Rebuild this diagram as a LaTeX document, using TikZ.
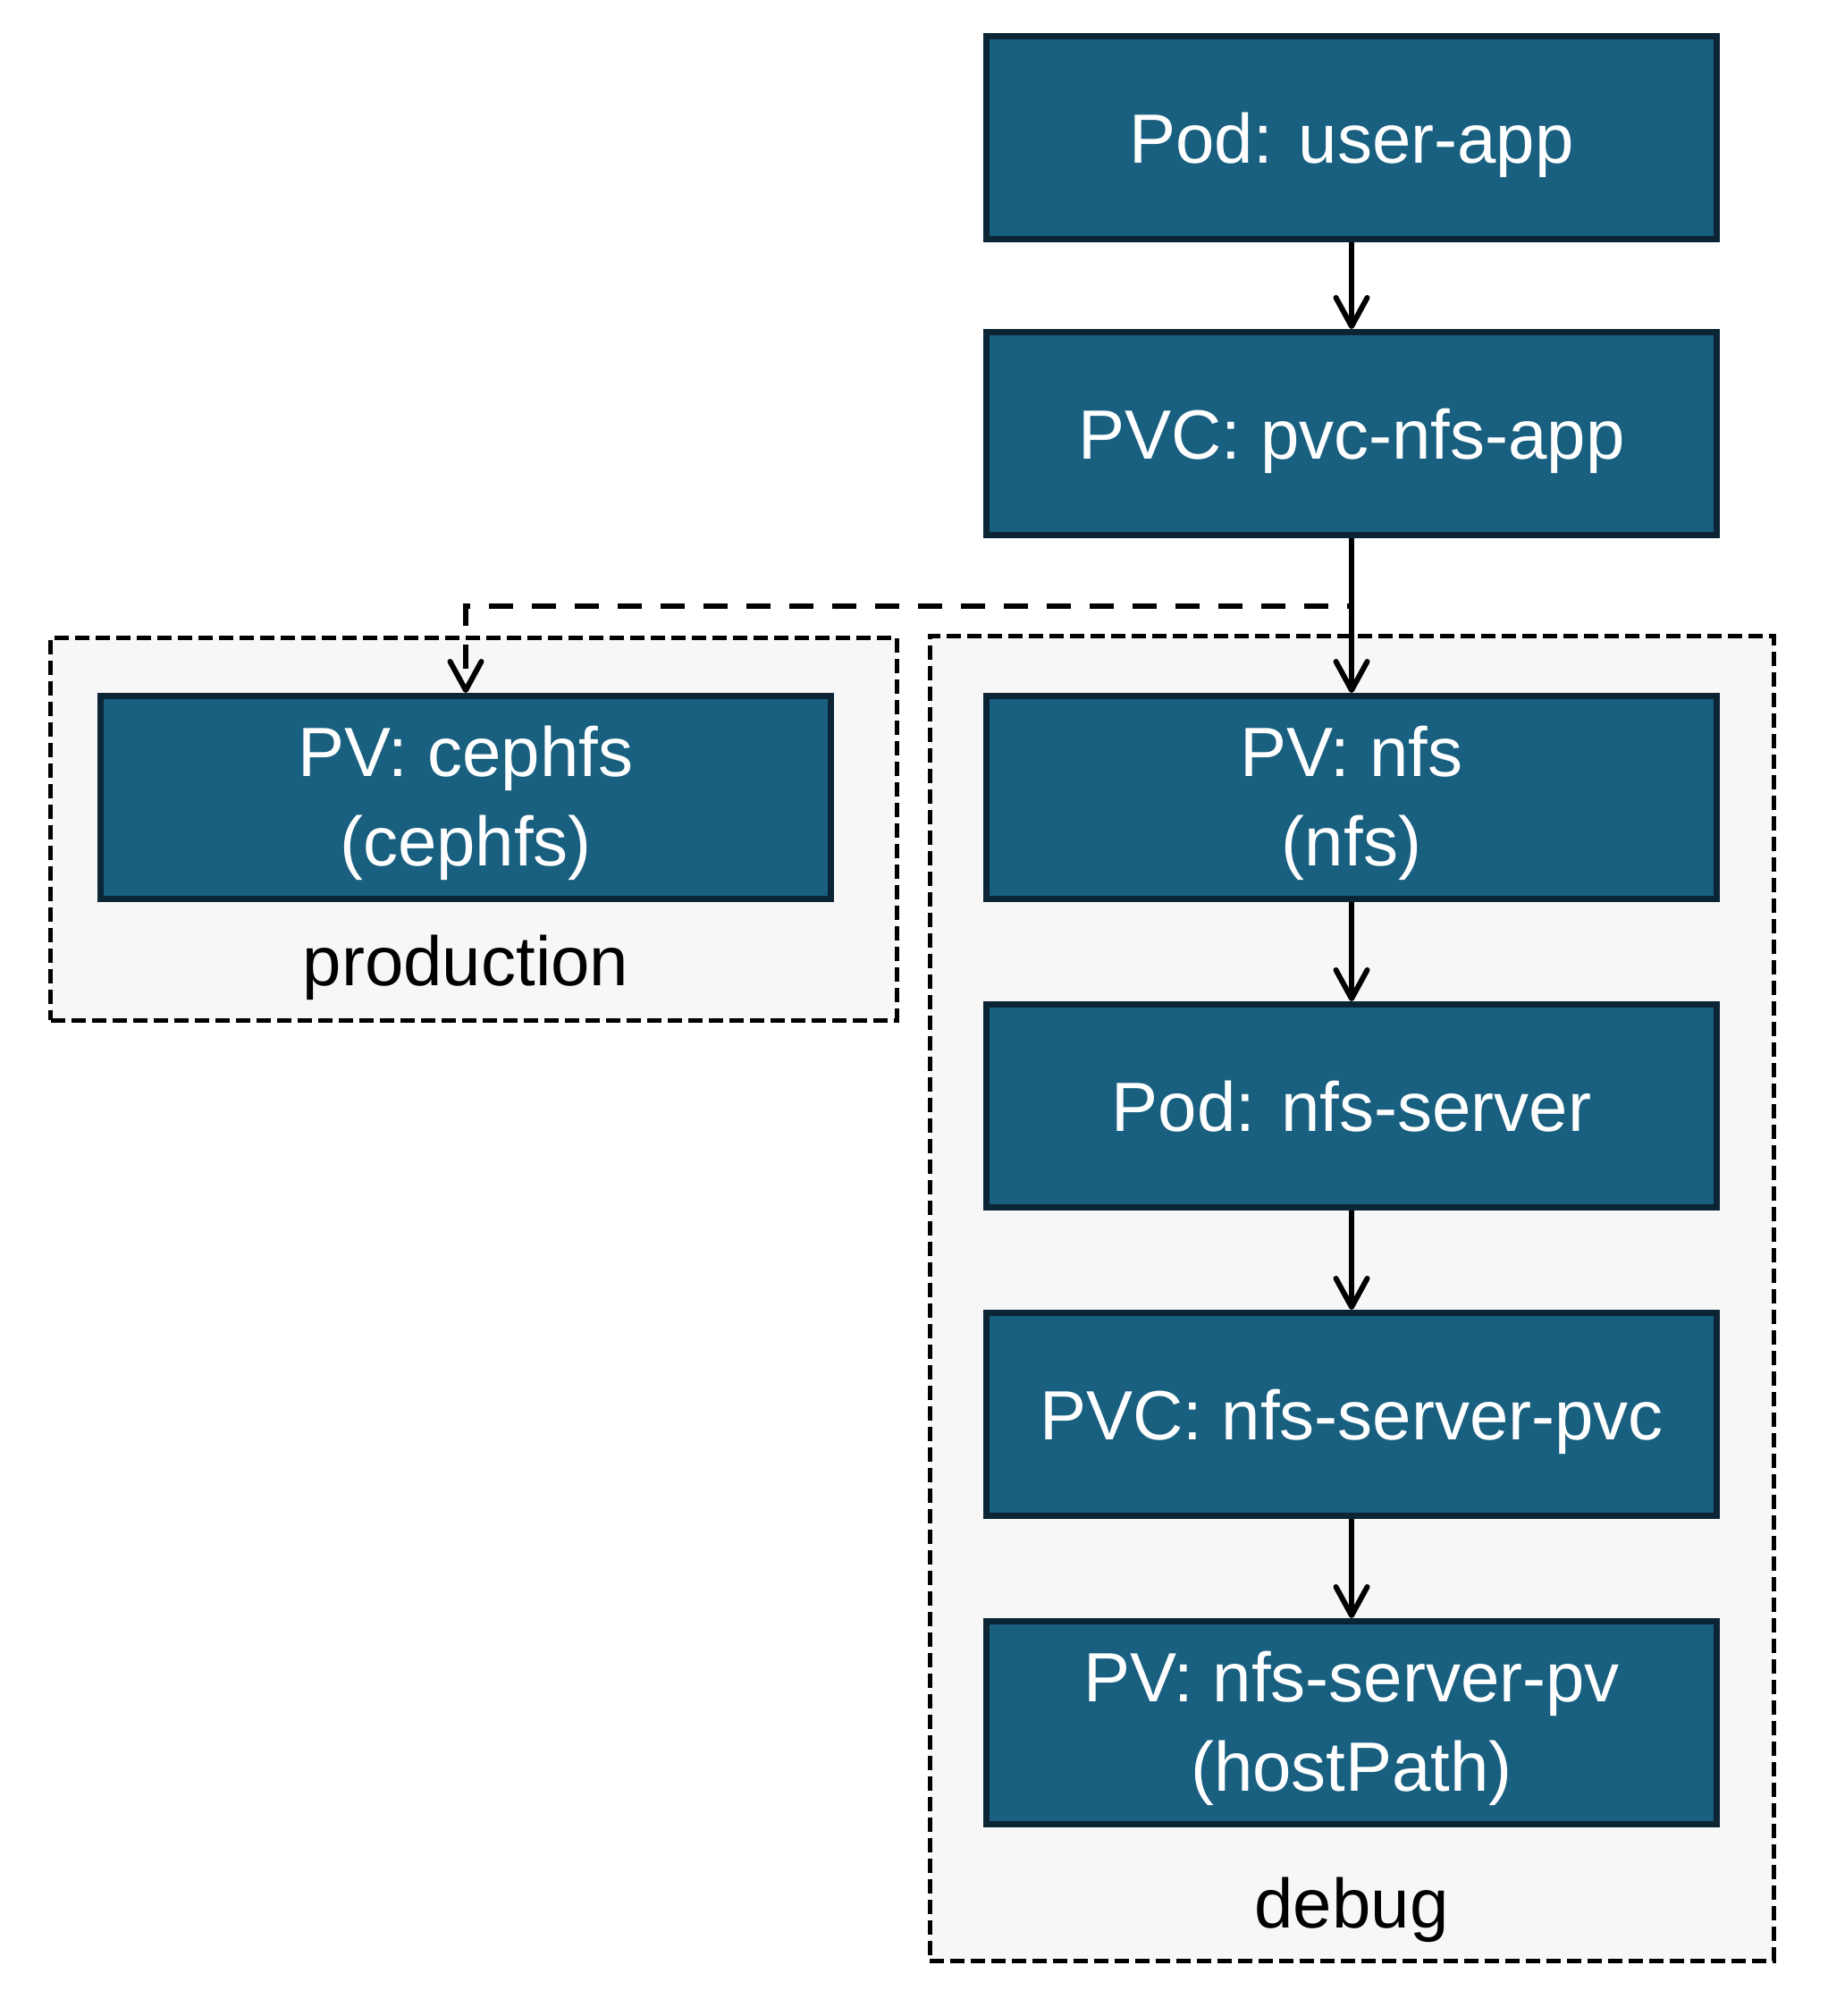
\documentclass[tikz,border=0pt]{standalone}
\usepackage{fontspec}
\setmainfont{Liberation Sans}
\usepackage{tikz}
\usetikzlibrary{positioning, fit, calc, backgrounds, arrows.meta}
\definecolor{resfill}{RGB}{24,95,128}
\definecolor{resedge}{RGB}{11,37,53}
\definecolor{groupfill}{RGB}{247,247,247}
\tikzset{
res/.style={
  draw=resedge, fill=resfill, line width=0.07cm,
  text=white, align=center,
  minimum width=8.17cm, minimum height=2.27cm,
  font=\fontsize{22.2}{28.4}\selectfont,
  text height=0.57cm, text depth=0cm
},
twoline/.style={text height=1.57cm, text depth=0.05cm},
group/.style={
  draw, fill=groupfill, line width=0.05cm,
  dash pattern=on 0.16cm off 0.07cm,
  inner sep=0pt
},
grouplabel/.style={font=\fontsize{22.2}{28.4}\selectfont, inner sep=0pt},
link/.style={line width=0.06cm, -{Straight Barb[round, length=0.32cm, width=0.35cm]}},
}
\begin{document}
\begin{tikzpicture}
\useasboundingbox (0,0) rectangle (20.44,-22.55);
\node[res] (pod) at (15.12,-1.54) {Pod: user-app};
\node[res, below=0.97cm of pod] (pvc) {PVC: pvc-nfs-app};
\node[res, twoline, below=1.73cm of pvc] (pvnfs) {PV: nfs\\(nfs)};
\node[res, below=1.11cm of pvnfs] (nfspod) {Pod: nfs-server};
\node[res, below=1.11cm of nfspod] (nfspvc) {PVC: nfs-server-pvc};
\node[res, twoline, below=1.11cm of nfspvc] (nfspv) {PV: nfs-server-pv\\(hostPath)};
\node[res, twoline, left=1.67cm of pvnfs] (pvceph) {PV: cephfs\\(cephfs)};
\node[grouplabel, below=0.93cm of pvceph, anchor=base] (prodlbl) {production};
\node[grouplabel, below=1.12cm of nfspv, anchor=base] (debuglbl) {debug};
\begin{scope}[on background layer]
  \node[group, fit={($(pvceph.north west)+(-0.52,0.62)$) ($(pvceph.south east)+(0.7,-1.32)$)}] (prod) {};
  \node[group, fit={($(pvnfs.north west)+(-0.6,0.64)$) ($(nfspv.south east)+(0.6,-1.49)$)}] (debug) {};
\end{scope}
\draw[link] (pod) -- (pvc);
\draw[link] (pvc) -- (pvnfs);
\draw[link] (pvnfs) -- (nfspod);
\draw[link] (nfspod) -- (nfspvc);
\draw[link] (nfspvc) -- (nfspv);
\draw[link, dash pattern=on 0.27cm off 0.21cm, dash phase=0.42cm] (pvc.south) -- ++(0,-0.76) -| (pvceph.north);
\end{tikzpicture}
\end{document}
